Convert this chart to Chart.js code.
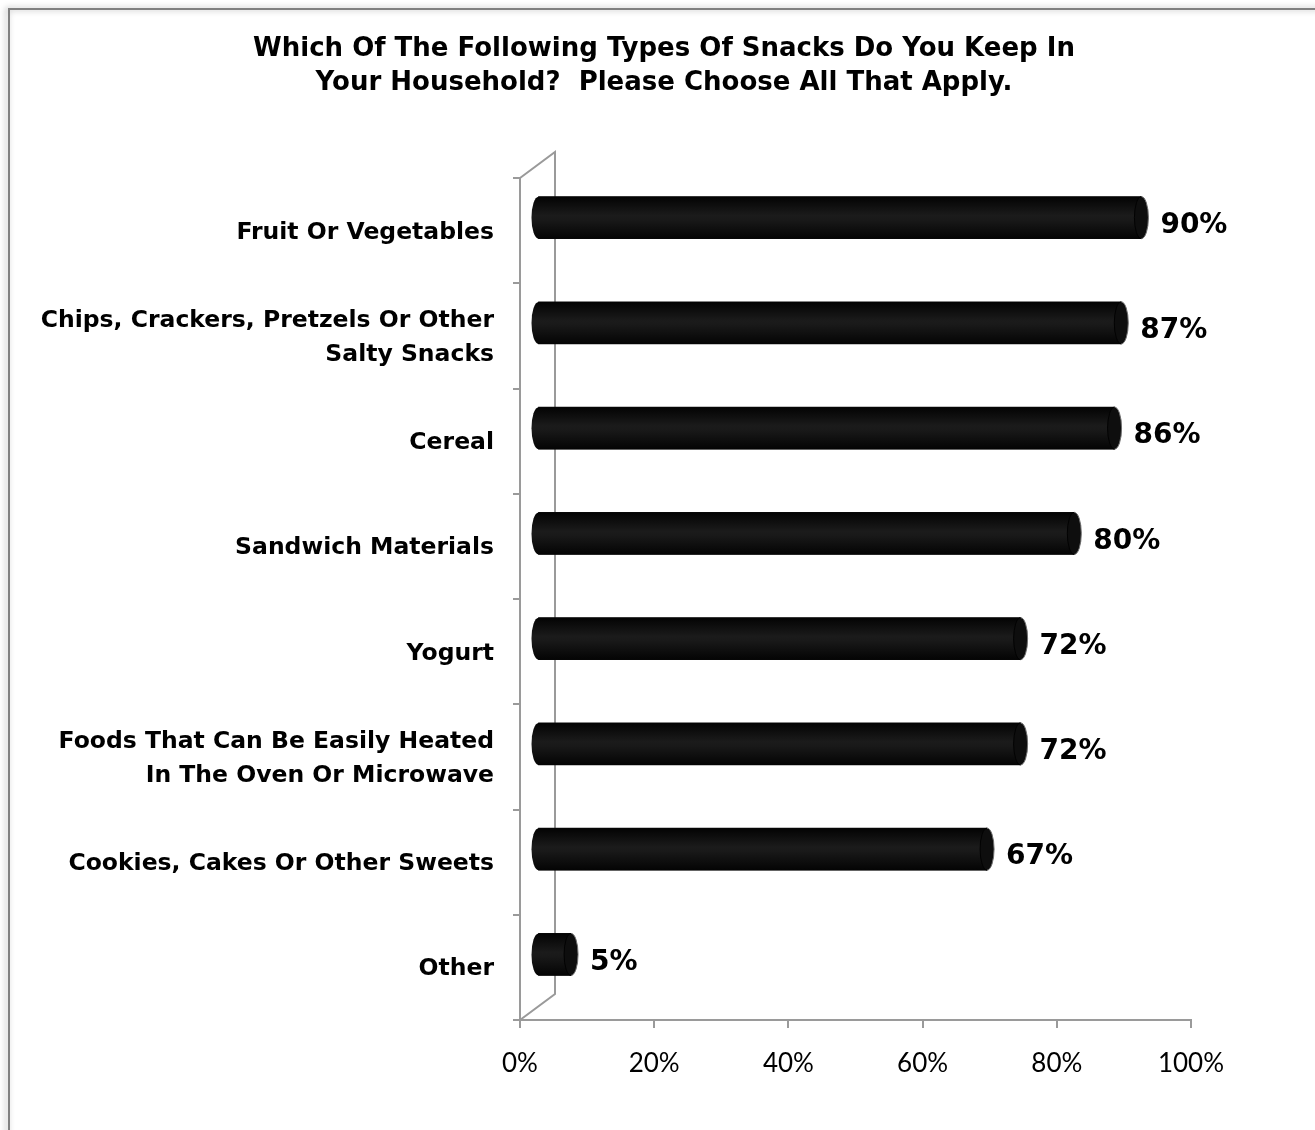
<!DOCTYPE html>
<html>
<head>
<meta charset="utf-8">
<script src="https://cdn.jsdelivr.net/npm/chart.js@4/dist/chart.umd.min.js"></script>
<style>
  html, body { margin: 0; padding: 0; background: #fff; overflow: hidden; }
  canvas { display: block; }
</style>
</head>
<body>
<canvas id="chart" width="1315" height="1130"></canvas>
<script>
const titleLines = [
  "Which Of The Following Types Of Snacks Do You Keep In",
  "Your Household?  Please Choose All That Apply."
];
const categories = [
  "Fruit Or Vegetables",
  ["Chips, Crackers, Pretzels Or Other", "Salty Snacks"],
  "Cereal",
  "Sandwich Materials",
  "Yogurt",
  ["Foods That Can Be Easily Heated", "In The Oven Or Microwave"],
  "Cookies, Cakes Or Other Sweets",
  "Other"
];
const shares = [90, 87, 86, 80, 72, 72, 67, 5];
const xTicks = [0, 20, 40, 60, 80, 100];

// 3D depth of the plot: wall goes back by DEPTH_X / DEPTH_Y, bars sit halfway in
const DEPTH_X = 35, DEPTH_Y = 26;
const DX = DEPTH_X / 2, DY = -DEPTH_Y / 2;
const CAP = 7;
const AXIS = "#9a9a9a";
const BOLD = "DejaVu Sans";

const frame = {
  id: "frame",
  beforeDraw(chart) {
    const ctx = chart.ctx;
    ctx.save();
    ctx.fillStyle = "#fff";
    ctx.fillRect(0, 0, chart.width, chart.height);
    ctx.shadowColor = "rgba(0,0,0,0.35)";
    ctx.shadowBlur = 6;
    ctx.shadowOffsetX = -2;
    ctx.strokeStyle = "#808080";
    ctx.lineWidth = 2;
    ctx.strokeRect(9, 9, chart.width + 50, chart.height + 50);
    ctx.restore();

    ctx.save();
    ctx.fillStyle = "#000";
    ctx.font = `bold 26px "${BOLD}"`;
    ctx.textAlign = "center";
    ctx.textBaseline = "middle";
    ctx.fillText(titleLines[0], 664, 49);
    ctx.fillText(titleLines[1], 664, 83);
    ctx.restore();
  }
};

const cylinders = {
  id: "cylinders",
  beforeDatasetsDraw(chart) {
    const { ctx, chartArea: a } = chart;
    // side wall of the 3D plot
    ctx.save();
    ctx.strokeStyle = AXIS;
    ctx.lineWidth = 2;
    ctx.beginPath();
    ctx.moveTo(a.left, a.top);
    ctx.lineTo(a.left + DEPTH_X, a.top - DEPTH_Y);
    ctx.lineTo(a.left + DEPTH_X, a.bottom - DEPTH_Y);
    ctx.lineTo(a.left, a.bottom);
    ctx.stroke();
    ctx.restore();

    ctx.save();
    ctx.translate(DX, DY);
  },
  afterDatasetsDraw(chart) {
    const ctx = chart.ctx;
    chart.getDatasetMeta(0).data.forEach(bar => {
      const { x, y, base, height } = bar.getProps(["x", "y", "base", "height"], true);
      const top = y - height / 2, ry = height / 2;
      const g = ctx.createLinearGradient(0, top, 0, top + height);
      g.addColorStop(0, "#030303");
      g.addColorStop(0.45, "#1b1b1b");
      g.addColorStop(0.55, "#191919");
      g.addColorStop(1, "#040404");
      // body with rounded back end, filled as one shape
      ctx.beginPath();
      ctx.moveTo(base, top + height);
      ctx.ellipse(base, y, CAP, ry, 0, Math.PI / 2, Math.PI * 1.5);
      ctx.lineTo(x, top);
      ctx.lineTo(x, top + height);
      ctx.closePath();
      ctx.fillStyle = g;
      ctx.fill();
      // visible front face
      ctx.beginPath();
      ctx.ellipse(x, y, CAP, ry, 0, 0, Math.PI * 2);
      ctx.fillStyle = "#0e0e0e";
      ctx.fill();
      ctx.lineWidth = 1;
      ctx.strokeStyle = "#020202";
      ctx.beginPath();
      ctx.ellipse(x, y, CAP, ry, 0, Math.PI / 2, Math.PI * 1.5);
      ctx.stroke();
      ctx.strokeStyle = "#6e6e6e";
      ctx.beginPath();
      ctx.ellipse(x, y, CAP, ry, 0, -Math.PI / 2, Math.PI / 2);
      ctx.stroke();
    });
    ctx.restore();
  },
  afterDraw(chart) {
    const ctx = chart.ctx;
    ctx.save();
    ctx.fillStyle = "#000";
    ctx.font = `bold 28px "${BOLD}"`;
    ctx.textAlign = "left";
    ctx.textBaseline = "middle";
    chart.getDatasetMeta(0).data.forEach((bar, i) => {
      ctx.fillText(shares[i] + "%", bar.x + DX + CAP + 12, bar.y + DY + 8);
    });
    ctx.restore();
  }
};

new Chart(document.getElementById("chart"), {
  type: "bar",
  data: {
    labels: categories,
    datasets: [{
      data: shares,
      backgroundColor: "#0d0d0d",
      borderWidth: 0,
      barThickness: 42
    }]
  },
  options: {
    indexAxis: "y",
    responsive: false,
    animation: false,
    devicePixelRatio: 1,
    layout: { padding: { left: 0, top: 178, right: 124, bottom: 0 } },
    plugins: { legend: { display: false }, tooltip: { enabled: false } },
    scales: {
      x: {
        min: 0,
        max: 100,
        afterFit(scale) { scale.height = 110; },
        afterBuildTicks(scale) { scale.ticks = xTicks.map(v => ({ value: v })); },
        grid: { drawOnChartArea: false, tickLength: 8, color: AXIS, lineWidth: 2 },
        border: { color: AXIS, width: 2 },
        ticks: {
          color: "#000",
          padding: 20,
          font: { family: "Lato", size: 26 },
          callback: v => v + "%"
        }
      },
      y: {
        afterFit(scale) { scale.width = 520; },
        grid: { drawOnChartArea: false, tickLength: 7, color: AXIS, lineWidth: 2, offset: true },
        border: { color: AXIS, width: 2 },
        ticks: {
          color: "#000",
          padding: 19,
          labelOffset: 2,
          font: { family: BOLD, size: 23.5, weight: "bold", lineHeight: 1.42 }
        }
      }
    }
  },
  plugins: [frame, cylinders]
});
</script>
</body>
</html>
